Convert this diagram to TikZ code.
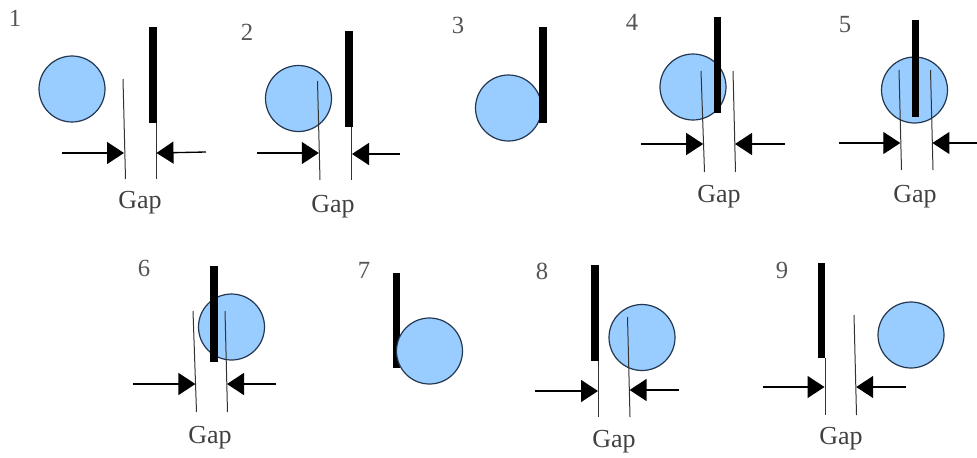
\documentclass[tikz,border=0pt]{standalone}
\usepackage{fontspec}
\setmainfont{Liberation Serif}
\usepackage{xcolor}
\usetikzlibrary{arrows.meta}
\definecolor{ballblue}{RGB}{153,204,255}
\definecolor{balledge}{RGB}{35,55,80}
\definecolor{numgray}{RGB}{85,85,85}

\begin{document}
\begin{tikzpicture}[x=0.75pt,y=-0.75pt,
    ball/.style={circle,draw=balledge,line width=0.9pt,fill=ballblue,minimum size=49.5pt,inner sep=0pt},
    bar/.style={line width=5.4pt,black},
    guide/.style={line width=0.75pt,black!80},
    push/.style={line width=1pt,-{Triangle[length=12.75pt,width=16.5pt]}},
    num/.style={text=numgray,font=\fontsize{18.5pt}{20pt}\selectfont,inner sep=0pt},
    gaplabel/.style={text=black!75,font=\fontsize{19.5pt}{21pt}\selectfont,inner sep=0pt}]
    \useasboundingbox (0,0) rectangle (977,457);
    % 1
    \node[num] (n1) at (15,18) {1};
    \node[ball] (b1) at (72,89) {};
    \draw[bar] (153,27) -- (153,123);
    \draw[guide] (156,123) -- (156,179);
    \draw[guide] (123,79) -- (125.5,179);
    \coordinate (s1l) at (62,153); \coordinate (e1l) at (124,153);
    \coordinate (s1r) at (206,152); \coordinate (e1r) at (156.5,153);
    \draw[push] (s1l) -- (e1l);
    \draw[push] (s1r) -- (e1r);
    \node[gaplabel] (g1) at (140,203) {Gap};
    % 2
    \node[num] (n2) at (247,32) {2};
    \node[ball] (b2) at (298.5,98.5) {};
    \draw[bar] (349,31) -- (349,127);
    \draw[guide] (351.5,127) -- (351.5,180);
    \draw[guide] (317.5,81) -- (320,180);
    \coordinate (s2l) at (257,153); \coordinate (e2l) at (318.8,153);
    \coordinate (s2r) at (400,154); \coordinate (e2r) at (352,154);
    \draw[push] (s2l) -- (e2l);
    \draw[push] (s2r) -- (e2r);
    \node[gaplabel] (g2) at (333,207) {Gap};
    % 3
    \node[num] (n3) at (458,25) {3};
    \node[ball] (b3) at (508.5,108) {};
    \draw[bar] (543,27) -- (543,123);
    % 4
    \node[num] (n4) at (632,22) {4};
    \node[ball] (b4) at (693,87) {};
    \draw[bar] (717.5,17) -- (717.5,113);
    \draw[guide] (701,71) -- (704.5,172);
    \draw[guide] (733,71) -- (735.5,172);
    \coordinate (s4l) at (641,144); \coordinate (e4l) at (703.2,144);
    \coordinate (s4r) at (785,144); \coordinate (e4r) at (735,144);
    \draw[push] (s4l) -- (e4l);
    \draw[push] (s4r) -- (e4r);
    \node[gaplabel] (g4) at (719,197) {Gap};
    % 5
    \node[num] (n5) at (845,25) {5};
    \node[ball] (b5) at (914.5,90) {};
    \draw[bar] (915.5,20) -- (915.5,117);
    \draw[guide] (899,70) -- (901.5,170);
    \draw[guide] (930.5,70) -- (933,170);
    \coordinate (s5l) at (839,143); \coordinate (e5l) at (900.3,143);
    \coordinate (s5r) at (977,143); \coordinate (e5r) at (932.4,143);
    \draw[push] (s5l) -- (e5l);
    \draw[push] (s5r) -- (e5r);
    \node[gaplabel] (g5) at (915,197) {Gap};
    % 6
    \node[num] (n6) at (144,268) {6};
    \node[ball] (b6) at (231.5,327) {};
    \draw[bar] (214,266) -- (214,362);
    \draw[guide] (193,311) -- (196.5,412);
    \draw[guide] (225,311) -- (227.5,412);
    \coordinate (s6l) at (133,384); \coordinate (e6l) at (195.4,384);
    \coordinate (s6r) at (276,384); \coordinate (e6r) at (227,384);
    \draw[push] (s6l) -- (e6l);
    \draw[push] (s6r) -- (e6r);
    \node[gaplabel] (g6) at (210,438) {Gap};
    % 7
    \node[num] (n7) at (364,270) {7};
    \draw[bar] (396.5,273) -- (396.5,368);
    \node[ball] (b7) at (429.5,351) {};
    % 8
    \node[num] (n8) at (542,271) {8};
    \node[ball] (b8) at (642,337.5) {};
    \draw[bar] (595,265) -- (595,361);
    \draw[guide] (598.5,361) -- (598.5,417);
    \draw[guide] (627.5,317) -- (630,417);
    \coordinate (s8l) at (535,391); \coordinate (e8l) at (598,391);
    \coordinate (s8r) at (679,390); \coordinate (e8r) at (629.6,390);
    \draw[push] (s8l) -- (e8l);
    \draw[push] (s8r) -- (e8r);
    \node[gaplabel] (g8) at (614,442) {Gap};
    % 9
    \node[num] (n9) at (782,270) {9};
    \node[ball] (b9) at (911,335) {};
    \draw[bar] (821.5,263) -- (821.5,358);
    \draw[guide] (825,358) -- (825,415);
    \draw[guide] (854,315) -- (856.5,415);
    \coordinate (s9l) at (763,387); \coordinate (e9l) at (824.5,387);
    \coordinate (s9r) at (906,387); \coordinate (e9r) at (856.2,387);
    \draw[push] (s9l) -- (e9l);
    \draw[push] (s9r) -- (e9r);
    \node[gaplabel] (g9) at (841,439) {Gap};
  \end{tikzpicture}
\end{document}
